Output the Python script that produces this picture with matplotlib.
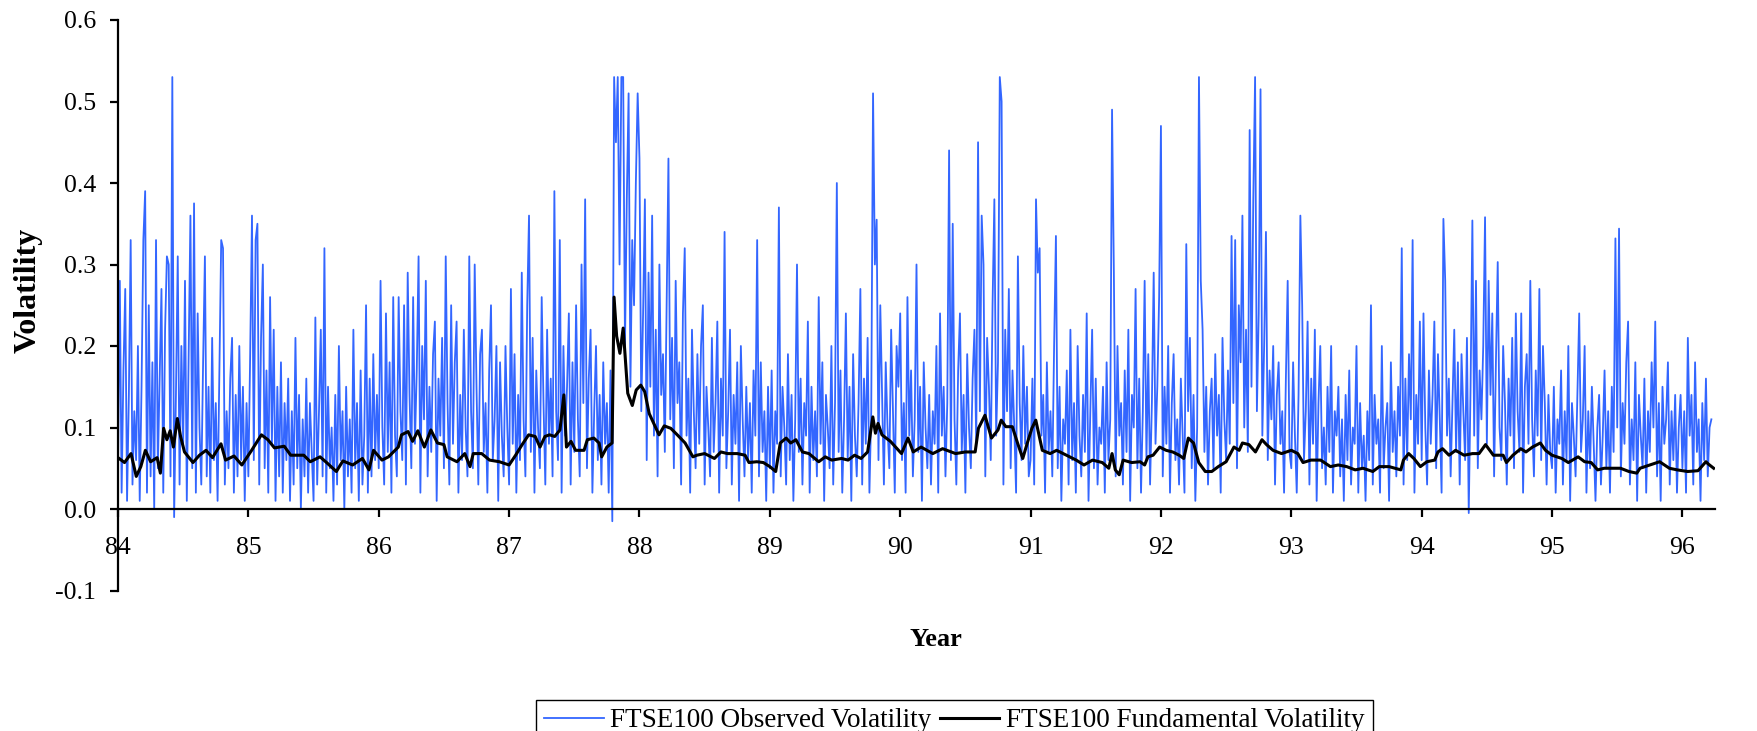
import numpy as np
import matplotlib
matplotlib.use("Agg")
from matplotlib import pyplot as plt
from matplotlib.ticker import FormatStrFormatter

plt.rcParams['font.family'] = ['Liberation Serif', 'DejaVu Serif']
plt.rcParams['axes.unicode_minus'] = False

# observed volatility, 72 samples per year
obs_84 = [0.05, 0.28, 0.02, 0.17, 0.27, 0.01, 0.14, 0.33, 0.03, 0.12,
          0.06, 0.20, 0.01, 0.15, 0.33, 0.39, 0.02, 0.25, 0.04, 0.18,
          0.00, 0.33, 0.05, 0.16, 0.27, 0.02, 0.22, 0.31, 0.30, 0.04,
          0.53, -0.01, 0.14, 0.31, 0.03, 0.20, 0.08, 0.28, 0.01, 0.19,
          0.36, 0.05, 0.375, 0.02, 0.24, 0.10, 0.03, 0.18, 0.31, 0.04,
          0.15, 0.02, 0.21, 0.06, 0.13, 0.01, 0.17, 0.33, 0.32, 0.03,
          0.12, 0.05, 0.16, 0.21, 0.02, 0.14, 0.04, 0.20, 0.06, 0.15,
          0.01, 0.13]
obs_85 = [0.04, 0.19, 0.36, 0.06, 0.33, 0.35, 0.03, 0.21, 0.30, 0.05,
          0.17, 0.02, 0.26, 0.08, 0.22, 0.01, 0.15, 0.04, 0.18, 0.02,
          0.13, 0.06, 0.16, 0.01, 0.12, 0.03, 0.21, 0.05, 0.14, 0.00,
          0.11, 0.04, 0.16, 0.02, 0.13, 0.07, 0.01, 0.235, 0.03, 0.12,
          0.22, 0.04, 0.32, 0.02, 0.15, 0.05, 0.10, 0.01, 0.14, 0.03,
          0.20, 0.06, 0.12, 0.00, 0.15, 0.04, 0.11, 0.02, 0.22, 0.05,
          0.13, 0.01, 0.17, 0.03, 0.09, 0.25, 0.02, 0.16, 0.04, 0.19,
          0.06, 0.14]
obs_86 = [0.05, 0.28, 0.10, 0.03, 0.24, 0.07, 0.18, 0.02, 0.26, 0.09,
          0.04, 0.26, 0.12, 0.06, 0.25, 0.03, 0.29, 0.14, 0.05, 0.26,
          0.08, 0.17, 0.31, 0.02, 0.20, 0.11, 0.28, 0.04, 0.15, 0.07,
          0.19, 0.23, 0.01, 0.16, 0.09, 0.21, 0.05, 0.31, 0.13, 0.03,
          0.25, 0.08, 0.18, 0.23, 0.02, 0.14, 0.06, 0.22, 0.10, 0.04,
          0.31, 0.12, 0.05, 0.30, 0.15, 0.03, 0.19, 0.22, 0.07, 0.13,
          0.02, 0.17, 0.25, 0.06, 0.11, 0.20, 0.01, 0.18, 0.09, 0.04,
          0.20, 0.10]
obs_87 = [0.03, 0.27, 0.08, 0.19, 0.02, 0.14, 0.06, 0.29, 0.11, 0.04,
          0.25, 0.36, 0.07, 0.21, 0.02, 0.17, 0.10, 0.05, 0.26, 0.13,
          0.03, 0.22, 0.08, 0.16, 0.04, 0.39, 0.12, 0.06, 0.33, 0.02,
          0.20, 0.09, 0.15, 0.24, 0.03, 0.18, 0.07, 0.25, 0.11, 0.04,
          0.30, 0.13, 0.38, 0.05, 0.16, 0.22, 0.02, 0.12, 0.20, 0.06,
          0.14, 0.03, 0.18, 0.08, 0.13, 0.02, 0.17, -0.015, 0.53, 0.45,
          0.53, 0.30, 0.53, 0.53, 0.20, 0.38, 0.51, 0.15, 0.33, 0.25,
          0.40, 0.51]
obs_88 = [0.43, 0.12, 0.24, 0.38, 0.06, 0.29, 0.15, 0.36, 0.09, 0.22,
          0.04, 0.30, 0.14, 0.19, 0.07, 0.25, 0.43, 0.11, 0.21, 0.05,
          0.28, 0.13, 0.18, 0.03, 0.24, 0.32, 0.09, 0.16, 0.02, 0.22,
          0.12, 0.05, 0.19, 0.08, 0.20, 0.25, 0.03, 0.15, 0.10, 0.04,
          0.21, 0.07, 0.13, 0.23, 0.02, 0.16, 0.09, 0.34, 0.05, 0.12,
          0.22, 0.03, 0.14, 0.08, 0.18, 0.01, 0.20, 0.11, 0.04, 0.15,
          0.06, 0.13, 0.02, 0.17, 0.09, 0.33, 0.04, 0.18, 0.07, 0.12,
          0.01, 0.15]
obs_89 = [0.05, 0.17, 0.02, 0.12, 0.08, 0.37, 0.04, 0.15, 0.10, 0.03,
          0.19, 0.06, 0.14, 0.01, 0.11, 0.30, 0.07, 0.16, 0.03, 0.13,
          0.09, 0.23, 0.02, 0.15, 0.06, 0.12, 0.04, 0.26, 0.08, 0.18,
          0.01, 0.14, 0.10, 0.05, 0.20, 0.03, 0.13, 0.40, 0.07, 0.17,
          0.02, 0.11, 0.24, 0.06, 0.15, 0.01, 0.19, 0.09, 0.04, 0.13,
          0.27, 0.03, 0.16, 0.08, 0.21, 0.02, 0.12, 0.51, 0.30, 0.355,
          0.06, 0.25, 0.14, 0.03, 0.18, 0.10, 0.05, 0.22, 0.12, 0.02,
          0.20, 0.15]
obs_90 = [0.24, 0.06, 0.13, 0.02, 0.26, 0.09, 0.17, 0.04, 0.11, 0.30,
          0.07, 0.15, 0.01, 0.18, 0.10, 0.05, 0.14, 0.03, 0.12, 0.08,
          0.20, 0.02, 0.24, 0.09, 0.15, 0.04, 0.13, 0.44, 0.06, 0.35,
          0.11, 0.03, 0.17, 0.24, 0.07, 0.14, 0.02, 0.19, 0.10, 0.05,
          0.16, 0.22, 0.08, 0.45, 0.12, 0.36, 0.30, 0.04, 0.21, 0.15,
          0.06, 0.25, 0.38, 0.09, 0.18, 0.53, 0.50, 0.03, 0.22, 0.12,
          0.27, 0.05, 0.17, 0.10, 0.02, 0.31, 0.13, 0.06, 0.20, 0.08,
          0.15, 0.04]
obs_91 = [0.06, 0.16, 0.03, 0.38, 0.29, 0.32, 0.09, 0.14, 0.02, 0.18,
          0.07, 0.12, 0.04, 0.20, 0.335, 0.05, 0.15, 0.01, 0.11, 0.08,
          0.17, 0.03, 0.22, 0.06, 0.13, 0.02, 0.20, 0.09, 0.04, 0.14,
          0.07, 0.24, 0.01, 0.12, 0.22, 0.05, 0.16, 0.03, 0.10, 0.08,
          0.15, 0.02, 0.18, 0.06, 0.11, 0.49, 0.29, 0.04, 0.20, 0.09,
          0.13, 0.03, 0.17, 0.07, 0.22, 0.01, 0.14, 0.10, 0.27, 0.05,
          0.16, 0.02, 0.12, 0.28, 0.06, 0.19, 0.03, 0.13, 0.29, 0.08,
          0.15, 0.26]
obs_92 = [0.47, 0.04, 0.15, 0.08, 0.20, 0.02, 0.13, 0.19, 0.06, 0.11,
          0.03, 0.16, 0.09, 0.02, 0.325, 0.12, 0.21, 0.05, 0.14, 0.01,
          0.10, 0.53, 0.28, 0.22, 0.07, 0.15, 0.03, 0.12, 0.16, 0.05,
          0.19, 0.09, 0.14, 0.02, 0.21, 0.11, 0.06, 0.17, 0.08, 0.335,
          0.13, 0.33, 0.05, 0.25, 0.18, 0.36, 0.10, 0.22, 0.07, 0.465,
          0.15, 0.38, 0.53, 0.12, 0.24, 0.515, 0.09, 0.20, 0.34, 0.06,
          0.17, 0.11, 0.20, 0.03, 0.14, 0.18, 0.08, 0.12, 0.02, 0.16,
          0.28, 0.07]
obs_93 = [0.05, 0.18, 0.09, 0.02, 0.14, 0.36, 0.25, 0.06, 0.12, 0.23,
          0.03, 0.16, 0.08, 0.22, 0.01, 0.13, 0.20, 0.05, 0.10, 0.03,
          0.15, 0.07, 0.20, 0.02, 0.12, 0.09, 0.15, 0.04, 0.11, 0.01,
          0.14, 0.06, 0.17, 0.03, 0.10, 0.08, 0.20, 0.02, 0.13, 0.05,
          0.09, 0.01, 0.12, 0.06, 0.25, 0.03, 0.14, 0.08, 0.11, 0.02,
          0.20, 0.05, 0.10, 0.13, 0.01, 0.18, 0.07, 0.12, 0.04, 0.15,
          0.09, 0.32, 0.03, 0.16, 0.06, 0.19, 0.11, 0.33, 0.02, 0.14,
          0.08, 0.23]
obs_94 = [0.06, 0.24, 0.10, 0.03, 0.17, 0.08, 0.14, 0.23, 0.05, 0.19,
          0.11, 0.02, 0.356, 0.28, 0.09, 0.16, 0.04, 0.13, 0.22, 0.07,
          0.18, 0.03, 0.19, 0.12, 0.06, 0.21, -0.005, 0.15, 0.354, 0.09,
          0.28, 0.05, 0.17, 0.11, 0.20, 0.358, 0.08, 0.28, 0.14, 0.24,
          0.04, 0.18, 0.303, 0.10, 0.06, 0.20, 0.13, 0.03, 0.16, 0.09,
          0.21, 0.05, 0.24, 0.12, 0.07, 0.24, 0.02, 0.15, 0.19, 0.08,
          0.28, 0.11, 0.04, 0.17, 0.09, 0.27, 0.06, 0.20, 0.13, 0.03,
          0.14, 0.07]
obs_95 = [0.05, 0.15, 0.02, 0.11, 0.08, 0.17, 0.03, 0.12, 0.06, 0.20,
          0.01, 0.13, 0.09, 0.04, 0.14, 0.24, 0.07, 0.11, 0.20, 0.02,
          0.12, 0.05, 0.15, 0.08, 0.01, 0.10, 0.14, 0.03, 0.09, 0.17,
          0.05, 0.12, 0.02, 0.15, 0.07, 0.332, 0.10, 0.344, 0.04, 0.13,
          0.08, 0.18, 0.23, 0.03, 0.11, 0.06, 0.18, 0.01, 0.14, 0.09,
          0.05, 0.16, 0.02, 0.12, 0.07, 0.18, 0.10, 0.23, 0.04, 0.13,
          0.01, 0.15, 0.08, 0.11, 0.18, 0.03, 0.12, 0.06, 0.14, 0.02,
          0.10, 0.14]
obs_96 = [0.05, 0.12, 0.02, 0.21, 0.09, 0.14, 0.03, 0.18, 0.07, 0.11,
          0.01, 0.13, 0.06, 0.16, 0.04, 0.10, 0.11]
obs_years = [84, 85, 86, 87, 88, 89, 90, 91, 92, 93, 94, 95, 96]
obs_lists = [obs_84, obs_85, obs_86, obs_87, obs_88, obs_89, obs_90,
             obs_91, obs_92, obs_93, obs_94, obs_95, obs_96]
per_year = 72

# fundamental volatility (year, value)
fund_t = [84.0, 84.05, 84.10, 84.14, 84.175, 84.21, 84.25, 84.30, 84.325, 84.35,
          84.375, 84.40, 84.425, 84.455, 84.48, 84.51, 84.575, 84.625, 84.675, 84.725,
          84.79, 84.825, 84.89, 84.95, 85.025, 85.10, 85.15, 85.2, 85.275, 85.325,
          85.425, 85.475, 85.55, 85.6, 85.675, 85.725, 85.8, 85.875, 85.925, 85.96,
          86.025, 86.075, 86.15, 86.175, 86.225, 86.26, 86.3, 86.35, 86.4, 86.45,
          86.5, 86.525, 86.6, 86.66, 86.7, 86.725, 86.79, 86.85, 86.925, 87.0,
          87.05, 87.1, 87.15, 87.2, 87.237, 87.275, 87.31, 87.35, 87.39, 87.42,
          87.44, 87.475, 87.51, 87.575, 87.6, 87.65, 87.69, 87.71, 87.75, 87.79,
          87.805, 87.825, 87.85, 87.875, 87.91, 87.945, 87.975, 88.01, 88.04, 88.075,
          88.11, 88.15, 88.19, 88.24, 88.29, 88.35, 88.41, 88.44, 88.5, 88.575,
          88.625, 88.675, 88.75, 88.81, 88.84, 88.9, 88.95, 89.0, 89.045, 89.08,
          89.125, 89.16, 89.2, 89.25, 89.3, 89.375, 89.425, 89.475, 89.55, 89.6,
          89.65, 89.7, 89.75, 89.79, 89.81, 89.83, 89.86, 89.925, 90.01, 90.06,
          90.1, 90.16, 90.25, 90.325, 90.425, 90.5, 90.575, 90.6, 90.65, 90.7,
          90.75, 90.775, 90.81, 90.86, 90.9, 90.94, 90.975, 91.01, 91.04, 91.09,
          91.15, 91.2, 91.275, 91.35, 91.41, 91.475, 91.55, 91.6, 91.625, 91.65,
          91.68, 91.71, 91.775, 91.84, 91.875, 91.9, 91.94, 91.99, 92.04, 92.09,
          92.14, 92.175, 92.21, 92.25, 92.29, 92.34, 92.39, 92.44, 92.5, 92.56,
          92.6, 92.625, 92.675, 92.725, 92.775, 92.81, 92.86, 92.925, 93.0, 93.05,
          93.09, 93.15, 93.225, 93.3, 93.36, 93.425, 93.49, 93.55, 93.625, 93.675,
          93.75, 93.84, 93.86, 93.9, 93.94, 93.99, 94.04, 94.1, 94.125, 94.16,
          94.21, 94.26, 94.325, 94.39, 94.44, 94.49, 94.55, 94.625, 94.65, 94.7,
          94.76, 94.8, 94.85, 94.91, 94.95, 95.0, 95.075, 95.125, 95.2, 95.25,
          95.3, 95.35, 95.4, 95.475, 95.525, 95.59, 95.65, 95.675, 95.75, 95.825,
          95.9, 95.96, 96.04, 96.12, 96.18, 96.2, 96.24]
fund_v = [0.063, 0.057, 0.068, 0.040, 0.052, 0.072, 0.058, 0.063, 0.044, 0.099,
          0.085, 0.096, 0.076, 0.111, 0.089, 0.070, 0.057, 0.066, 0.072, 0.063,
          0.080, 0.060, 0.065, 0.054, 0.072, 0.091, 0.085, 0.075, 0.077, 0.066,
          0.066, 0.058, 0.064, 0.057, 0.046, 0.059, 0.054, 0.062, 0.048, 0.072,
          0.060, 0.064, 0.076, 0.091, 0.095, 0.083, 0.096, 0.076, 0.097, 0.081,
          0.079, 0.064, 0.058, 0.068, 0.052, 0.068, 0.068, 0.060, 0.058, 0.054,
          0.066, 0.079, 0.091, 0.089, 0.076, 0.089, 0.091, 0.089, 0.097, 0.140,
          0.076, 0.083, 0.072, 0.072, 0.085, 0.087, 0.081, 0.064, 0.076, 0.081,
          0.260, 0.212, 0.191, 0.222, 0.142, 0.127, 0.146, 0.152, 0.144, 0.117,
          0.105, 0.091, 0.102, 0.099, 0.091, 0.081, 0.064, 0.066, 0.068, 0.062,
          0.070, 0.068, 0.068, 0.066, 0.057, 0.058, 0.057, 0.052, 0.046, 0.081,
          0.087, 0.081, 0.085, 0.070, 0.068, 0.058, 0.064, 0.060, 0.062, 0.060,
          0.066, 0.062, 0.070, 0.113, 0.093, 0.105, 0.091, 0.083, 0.068, 0.087,
          0.070, 0.076, 0.068, 0.074, 0.068, 0.070, 0.070, 0.099, 0.115, 0.087,
          0.097, 0.109, 0.101, 0.101, 0.081, 0.062, 0.081, 0.099, 0.109, 0.072,
          0.068, 0.072, 0.066, 0.060, 0.054, 0.060, 0.057, 0.050, 0.068, 0.048,
          0.042, 0.060, 0.057, 0.058, 0.054, 0.064, 0.066, 0.076, 0.072, 0.070,
          0.066, 0.062, 0.087, 0.081, 0.057, 0.046, 0.046, 0.052, 0.058, 0.076,
          0.072, 0.081, 0.079, 0.070, 0.085, 0.079, 0.072, 0.068, 0.072, 0.068,
          0.057, 0.060, 0.060, 0.052, 0.054, 0.052, 0.048, 0.050, 0.046, 0.052,
          0.052, 0.048, 0.060, 0.068, 0.062, 0.052, 0.058, 0.060, 0.070, 0.074,
          0.066, 0.072, 0.066, 0.068, 0.068, 0.079, 0.066, 0.066, 0.057, 0.066,
          0.074, 0.070, 0.076, 0.081, 0.072, 0.066, 0.062, 0.057, 0.064, 0.058,
          0.057, 0.048, 0.050, 0.050, 0.050, 0.046, 0.044, 0.050, 0.054, 0.058,
          0.050, 0.048, 0.046, 0.047, 0.058, 0.055, 0.050]

year_ticks = [84, 85, 86, 87, 88, 89, 90, 91, 92, 93, 94, 95, 96]
vol_ticks = [-0.1, 0.0, 0.1, 0.2, 0.3, 0.4, 0.5, 0.6]

obs_t = np.concatenate([y + np.arange(len(v)) / per_year for y, v in zip(obs_years, obs_lists)])
obs_v = np.concatenate([np.array(v, dtype=float) for v in obs_lists])

W, H = 1758, 731
fig = plt.figure(figsize=(W / 100, H / 100), dpi=100)
ax = fig.add_axes([118 / W, (H - 590.5) / H, 1597 / W, 570.5 / H])

line_obs, = ax.plot(obs_t, obs_v, color='#3366ff', lw=1.3, zorder=2)
line_fund, = ax.plot(fund_t, fund_v, color='black', lw=2.2, zorder=3)

ax.set_xlim(84, 96.25)
ax.set_ylim(-0.1, 0.6)
ax.set_xticks(year_ticks)
ax.set_xticklabels([str(y) for y in year_ticks])
ax.set_yticks(vol_ticks)
ax.yaxis.set_major_formatter(FormatStrFormatter('%.1f'))

for s in ['top', 'right']:
    ax.spines[s].set_visible(False)
ax.spines['bottom'].set_position(('data', 0))
ax.spines['bottom'].set_linewidth(1.6)
ax.spines['left'].set_linewidth(1.6)
ax.spines['bottom'].set_zorder(4)

ax.tick_params(axis='x', direction='out', length=6, width=1.6, labelsize=18.5, pad=14)
ax.tick_params(axis='y', direction='out', length=6, width=1.6, labelsize=18.5, pad=10)

fig.text(28 / W, 1 - 290 / H, 'Volatility', rotation=90, ha='center', va='center',
         fontsize=23, fontweight='bold')
fig.text(936 / W, 1 - 640 / H, 'Year', ha='center', va='center',
         fontsize=19, fontweight='bold')

leg = fig.legend([line_obs, line_fund],
                 ['FTSE100 Observed Volatility', 'FTSE100 Fundamental Volatility'],
                 loc='upper left', bbox_to_anchor=(536 / W, (H - 700) / H),
                 ncol=2, fontsize=19.5, frameon=True, fancybox=False,
                 edgecolor='black', framealpha=1, borderpad=0.3,
                 handlelength=2.2, handletextpad=0.25, columnspacing=0.3,
                 borderaxespad=0)
leg.get_frame().set_linewidth(1.0)

fig.savefig('out.png', dpi=100)
